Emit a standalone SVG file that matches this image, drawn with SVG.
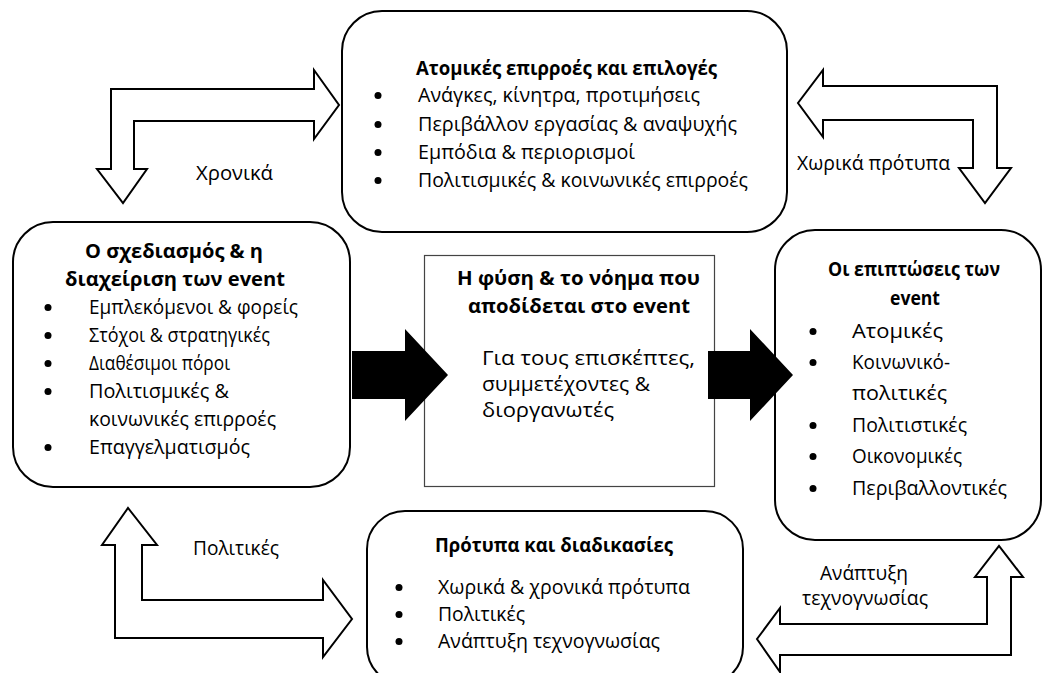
<svg xmlns="http://www.w3.org/2000/svg" width="1044" height="673" viewBox="0 0 1044 673">
<style>
.t{font-family:"Open Sans","Noto Sans",sans-serif;font-size:20px;fill:#000}
.b{font-weight:bold}
.box{fill:#fff;stroke:#000;stroke-width:2}
.sq{fill:#fff;stroke:#444;stroke-width:1.2}
.hollow{fill:#fff;stroke:#000;stroke-width:2;stroke-linejoin:miter}
.solid{fill:#000}
.dot{fill:#000}
</style>
<rect width="1044" height="673" fill="#fff"/>

<g id="node-top">
<rect class="box" x="342" y="11" width="445" height="221" rx="40" ry="40"/>
<text class="t b" x="416" y="75" textLength="301" lengthAdjust="spacingAndGlyphs">Ατομικές επιρροές και επιλογές</text>
<circle class="dot" cx="378" cy="95.5" r="3.5"/>
<text class="t" x="418" y="102" textLength="282" lengthAdjust="spacingAndGlyphs">Ανάγκες, κίνητρα, προτιμήσεις</text>
<circle class="dot" cx="378" cy="124.5" r="3.5"/>
<text class="t" x="418" y="131" textLength="319" lengthAdjust="spacingAndGlyphs">Περιβάλλον εργασίας &amp; αναψυχής</text>
<circle class="dot" cx="378" cy="152.5" r="3.5"/>
<text class="t" x="418" y="159" textLength="217" lengthAdjust="spacingAndGlyphs">Εμπόδια &amp; περιορισμοί</text>
<circle class="dot" cx="378" cy="180.5" r="3.5"/>
<text class="t" x="418" y="187" textLength="330" lengthAdjust="spacingAndGlyphs">Πολιτισμικές &amp; κοινωνικές επιρροές</text>
</g>

<g id="node-left">
<rect class="box" x="13" y="222" width="337" height="265" rx="40" ry="40"/>
<text class="t b" x="85" y="258" textLength="178" lengthAdjust="spacingAndGlyphs">Ο σχεδιασμός &amp; η</text>
<text class="t b" x="65" y="286" textLength="220" lengthAdjust="spacingAndGlyphs">διαχείριση των event</text>
<circle class="dot" cx="48" cy="307.5" r="3.5"/>
<text class="t" x="89" y="314" textLength="209" lengthAdjust="spacingAndGlyphs">Εμπλεκόμενοι &amp; φορείς</text>
<circle class="dot" cx="48" cy="335.5" r="3.5"/>
<text class="t" x="89" y="342" textLength="181" lengthAdjust="spacingAndGlyphs">Στόχοι &amp; στρατηγικές</text>
<circle class="dot" cx="48" cy="363.5" r="3.5"/>
<text class="t" x="89" y="370" textLength="141" lengthAdjust="spacingAndGlyphs">Διαθέσιμοι πόροι</text>
<circle class="dot" cx="48" cy="391.5" r="3.5"/>
<text class="t" x="89" y="398" textLength="140" lengthAdjust="spacingAndGlyphs">Πολιτισμικές &amp;</text>
<text class="t" x="89" y="426" textLength="187" lengthAdjust="spacingAndGlyphs">κοινωνικές επιρροές</text>
<circle class="dot" cx="48" cy="447.5" r="3.5"/>
<text class="t" x="89" y="454" textLength="161" lengthAdjust="spacingAndGlyphs">Επαγγελματισμός</text>
</g>

<g id="node-middle">
<rect class="sq" x="424.5" y="255.5" width="290" height="231"/>
<text class="t b" x="457" y="285" textLength="243" lengthAdjust="spacingAndGlyphs">Η φύση &amp; το νόημα που</text>
<text class="t b" x="468" y="313" textLength="222" lengthAdjust="spacingAndGlyphs">αποδίδεται στο event</text>
<text class="t" x="482" y="365" textLength="213" lengthAdjust="spacingAndGlyphs">Για τους επισκέπτες,</text>
<text class="t" x="482" y="391" textLength="168" lengthAdjust="spacingAndGlyphs">συμμετέχοντες &amp;</text>
<text class="t" x="482" y="417" textLength="132" lengthAdjust="spacingAndGlyphs">διοργανωτές</text>
</g>

<g id="node-right">
<rect class="box" x="775" y="230" width="266" height="310" rx="40" ry="40"/>
<text class="t b" x="914" y="276" text-anchor="middle" textLength="172" lengthAdjust="spacingAndGlyphs">Οι επιπτώσεις των</text>
<text class="t b" x="915" y="305" text-anchor="middle" textLength="50" lengthAdjust="spacingAndGlyphs">event</text>
<circle class="dot" cx="813" cy="331.5" r="3.5"/>
<text class="t" x="852" y="338" textLength="91" lengthAdjust="spacingAndGlyphs">Ατομικές</text>
<circle class="dot" cx="813" cy="362.5" r="3.5"/>
<text class="t" x="852" y="369" textLength="98" lengthAdjust="spacingAndGlyphs">Κοινωνικό-</text>
<text class="t" x="852" y="400" textLength="95" lengthAdjust="spacingAndGlyphs">πολιτικές</text>
<circle class="dot" cx="813" cy="425.5" r="3.5"/>
<text class="t" x="852" y="432" textLength="115" lengthAdjust="spacingAndGlyphs">Πολιτιστικές</text>
<circle class="dot" cx="813" cy="456.5" r="3.5"/>
<text class="t" x="852" y="463" textLength="110" lengthAdjust="spacingAndGlyphs">Οικονομικές</text>
<circle class="dot" cx="813" cy="488.5" r="3.5"/>
<text class="t" x="852" y="495" textLength="155" lengthAdjust="spacingAndGlyphs">Περιβαλλοντικές</text>
</g>

<g id="node-bottom">
<rect class="box" x="367" y="511" width="376" height="174" rx="38" ry="38"/>
<text class="t b" x="435" y="552" textLength="238" lengthAdjust="spacingAndGlyphs">Πρότυπα και διαδικασίες</text>
<circle class="dot" cx="399" cy="587.5" r="3.5"/>
<text class="t" x="438" y="594" textLength="252" lengthAdjust="spacingAndGlyphs">Χωρικά &amp; χρονικά πρότυπα</text>
<circle class="dot" cx="399" cy="614.5" r="3.5"/>
<text class="t" x="438" y="621" textLength="87" lengthAdjust="spacingAndGlyphs">Πολιτικές</text>
<circle class="dot" cx="399" cy="641.5" r="3.5"/>
<text class="t" x="438" y="648" textLength="222" lengthAdjust="spacingAndGlyphs">Ανάπτυξη τεχνογνωσίας</text>
</g>

<g id="connectors">
<path class="hollow" d="M111,169 L97,169 L123,203 L147,169 L134,169 L134,121 L314,121 L314,139 L339,105 L314,70 L314,89 L111,89 Z"/>
<path class="hollow" d="M823,86 L997,86 L997,168 L1011,168 L985,203 L959,168 L973,168 L973,120 L823,120 L823,137 L798,103 L823,70 Z"/>
<path class="hollow" d="M115,545 L102,545 L128,508 L157,545 L142,545 L142,600 L323,600 L323,580 L352,619 L323,657 L323,638 L115,638 Z"/>
<path class="hollow" d="M987,577 L975,577 L999,546 L1023,577 L1011,577 L1011,655 L780,655 L780,672 L757,639 L780,608 L780,624 L987,624 Z"/>
<path class="solid" d="M352,351 L405,351 L405,329 L448,375 L405,421 L405,399 L352,399 Z"/>
<path class="solid" d="M708,351 L750,351 L750,329 L793,375 L750,421 L750,399 L708,399 Z"/>
<text class="t" x="196" y="180" textLength="77" lengthAdjust="spacingAndGlyphs">Χρονικά</text>
<text class="t" x="797" y="170" textLength="153" lengthAdjust="spacingAndGlyphs">Χωρικά πρότυπα</text>
<text class="t" x="193" y="555" textLength="86" lengthAdjust="spacingAndGlyphs">Πολιτικές</text>
<text class="t" x="820" y="580" textLength="88" lengthAdjust="spacingAndGlyphs">Ανάπτυξη</text>
<text class="t" x="802" y="605" textLength="126" lengthAdjust="spacingAndGlyphs">τεχνογνωσίας</text>
</g>
</svg>
